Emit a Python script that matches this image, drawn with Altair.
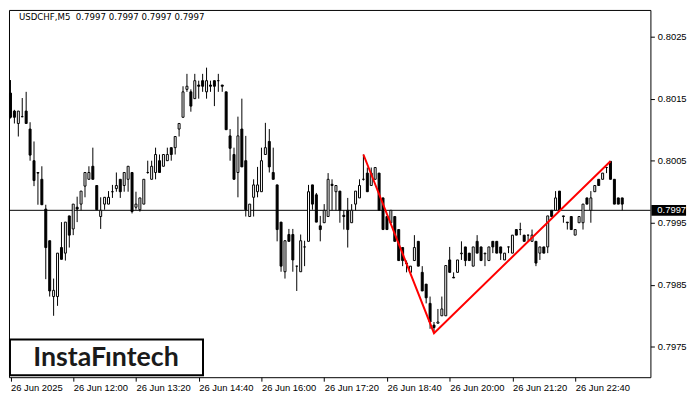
import json
import altair as alt
import pandas as pd

# ---- data (USDCHF, M5, 26 Jun 2025 from 10:40) ----
OPEN = [0.80159, 0.80130, 0.80110, 0.80121, 0.80130, 0.80101, 0.80050, 0.80031, 0.80020, 0.79972,
        0.79921, 0.79831, 0.79831, 0.79910, 0.79901, 0.79961, 0.79940, 0.79975, 0.79980, 0.80009,
        0.80020, 0.80041, 0.80010, 0.79960, 0.79980, 0.79980, 0.80000, 0.80005, 0.80020, 0.80010,
        0.80020, 0.80031, 0.79975, 0.79971, 0.79980, 0.80031, 0.80020, 0.80031, 0.80050, 0.80041,
        0.80050, 0.80071, 0.80071, 0.80101, 0.80120, 0.80165, 0.80161, 0.80150, 0.80172, 0.80179,
        0.80161, 0.80172, 0.80179, 0.80179, 0.80172, 0.80161, 0.80090, 0.80060, 0.80031, 0.80101,
        0.80050, 0.79960, 0.79991, 0.80000, 0.80000, 0.80060, 0.80081, 0.80031, 0.80011, 0.79951,
        0.79871, 0.79931, 0.79931, 0.79880, 0.79871, 0.79911, 0.79920, 0.80011, 0.79995, 0.79945,
        0.79950, 0.79960, 0.80012, 0.80000, 0.80001, 0.79962, 0.79970, 0.79950, 0.79980, 0.79990,
        0.80020, 0.80030, 0.80010, 0.80020, 0.80030, 0.79990, 0.79960, 0.79950, 0.79960, 0.79939,
        0.79910, 0.79885, 0.79870, 0.79889, 0.79920, 0.79870, 0.79851, 0.79820, 0.79785, 0.79788,
        0.79800, 0.79800, 0.79890, 0.79862, 0.79870, 0.79900, 0.79911, 0.79901, 0.79880, 0.79920,
        0.79911, 0.79900, 0.79889, 0.79920, 0.79920, 0.79911, 0.79890, 0.79911, 0.79901, 0.79939,
        0.79939, 0.79930, 0.79930, 0.79920, 0.79920, 0.79901, 0.79911, 0.79911, 0.79970, 0.79970,
        0.80001, 0.79961, 0.79951, 0.79960, 0.79930, 0.79950, 0.79950, 0.79990, 0.79970, 0.80000,
        0.80020, 0.80020, 0.80039, 0.80049, 0.80020, 0.79990, 0.79990]
HIGH = [0.80180, 0.80132, 0.80130, 0.80151, 0.80161, 0.80112, 0.80081, 0.80031, 0.80041, 0.79979,
        0.79921, 0.79860, 0.79901, 0.79951, 0.79951, 0.79961, 0.79980, 0.79992, 0.80001, 0.80031,
        0.80041, 0.80071, 0.80010, 0.79991, 0.79991, 0.80001, 0.80011, 0.80031, 0.80020, 0.80031,
        0.80041, 0.80031, 0.80000, 0.79990, 0.80020, 0.80050, 0.80050, 0.80071, 0.80060, 0.80060,
        0.80071, 0.80071, 0.80089, 0.80110, 0.80170, 0.80190, 0.80165, 0.80190, 0.80179, 0.80190,
        0.80200, 0.80179, 0.80179, 0.80190, 0.80172, 0.80161, 0.80101, 0.80071, 0.80121, 0.80150,
        0.80090, 0.79980, 0.80020, 0.80040, 0.80071, 0.80111, 0.80101, 0.80071, 0.80011, 0.79951,
        0.79921, 0.79940, 0.79940, 0.79880, 0.79931, 0.79921, 0.80011, 0.80011, 0.79998, 0.79961,
        0.79980, 0.80030, 0.80020, 0.80010, 0.80001, 0.79970, 0.79990, 0.79980, 0.80001, 0.80020,
        0.80060, 0.80039, 0.80039, 0.80039, 0.80030, 0.79990, 0.79960, 0.79970, 0.79960, 0.79939,
        0.79910, 0.79889, 0.79880, 0.79930, 0.79920, 0.79880, 0.79851, 0.79831, 0.79790, 0.79811,
        0.79831, 0.79881, 0.79911, 0.79870, 0.79890, 0.79920, 0.79911, 0.79901, 0.79911, 0.79930,
        0.79911, 0.79901, 0.79911, 0.79920, 0.79920, 0.79911, 0.79901, 0.79911, 0.79930, 0.79939,
        0.79950, 0.79930, 0.79930, 0.79939, 0.79920, 0.79911, 0.79911, 0.79961, 0.79970, 0.80001,
        0.80001, 0.79961, 0.79951, 0.79960, 0.79939, 0.79960, 0.79980, 0.79990, 0.80001, 0.80010,
        0.80020, 0.80030, 0.80039, 0.80049, 0.80020, 0.79990, 0.79990]
LOW = [0.80118, 0.80110, 0.80089, 0.80120, 0.80110, 0.80050, 0.80009, 0.79979, 0.79979, 0.79859,
       0.79831, 0.79800, 0.79816, 0.79891, 0.79889, 0.79910, 0.79930, 0.79951, 0.79970, 0.79991,
       0.80020, 0.80020, 0.79971, 0.79940, 0.79971, 0.79980, 0.79990, 0.80000, 0.79990, 0.80000,
       0.80000, 0.79965, 0.79971, 0.79968, 0.79980, 0.80029, 0.80020, 0.80020, 0.80031, 0.80041,
       0.80050, 0.80050, 0.80060, 0.80089, 0.80120, 0.80161, 0.80129, 0.80150, 0.80150, 0.80161,
       0.80150, 0.80161, 0.80138, 0.80161, 0.80161, 0.80100, 0.80050, 0.80020, 0.79991, 0.80040,
       0.79960, 0.79960, 0.79960, 0.79991, 0.80000, 0.80060, 0.80031, 0.80020, 0.79920, 0.79871,
       0.79860, 0.79920, 0.79871, 0.79840, 0.79871, 0.79880, 0.79920, 0.79971, 0.79951, 0.79920,
       0.79950, 0.79960, 0.79970, 0.79970, 0.79950, 0.79939, 0.79910, 0.79950, 0.79970, 0.79990,
       0.80018, 0.80000, 0.80010, 0.80020, 0.79970, 0.79939, 0.79939, 0.79950, 0.79920, 0.79889,
       0.79880, 0.79870, 0.79870, 0.79889, 0.79880, 0.79840, 0.79820, 0.79779, 0.79772, 0.79788,
       0.79800, 0.79800, 0.79870, 0.79861, 0.79870, 0.79890, 0.79880, 0.79889, 0.79880, 0.79901,
       0.79889, 0.79880, 0.79889, 0.79901, 0.79901, 0.79890, 0.79890, 0.79901, 0.79901, 0.79930,
       0.79930, 0.79920, 0.79920, 0.79920, 0.79880, 0.79890, 0.79901, 0.79901, 0.79960, 0.79970,
       0.79970, 0.79950, 0.79939, 0.79939, 0.79930, 0.79950, 0.79939, 0.79980, 0.79950, 0.80000,
       0.80010, 0.80020, 0.80030, 0.80020, 0.79980, 0.79980, 0.79970]
CLOSE = [0.80120, 0.80120, 0.80130, 0.80121, 0.80110, 0.80059, 0.80018, 0.80030, 0.79979, 0.79910,
         0.79840, 0.79841, 0.79901, 0.79891, 0.79951, 0.79930, 0.79980, 0.79972, 0.80001, 0.80031,
         0.80031, 0.80020, 0.79971, 0.79970, 0.79991, 0.79991, 0.80000, 0.80010, 0.80000, 0.80031,
         0.80041, 0.79968, 0.79980, 0.79990, 0.80020, 0.80031, 0.80041, 0.80060, 0.80031, 0.80060,
         0.80060, 0.80060, 0.80089, 0.80110, 0.80161, 0.80170, 0.80138, 0.80179, 0.80170, 0.80170,
         0.80179, 0.80170, 0.80170, 0.80179, 0.80170, 0.80100, 0.80070, 0.80020, 0.80090, 0.80040,
         0.79971, 0.79980, 0.80011, 0.80011, 0.80050, 0.80071, 0.80040, 0.80020, 0.79939, 0.79880,
         0.79921, 0.79920, 0.79890, 0.79880, 0.79921, 0.79911, 0.80000, 0.79980, 0.79951, 0.79939,
         0.79970, 0.80020, 0.80010, 0.80010, 0.79970, 0.79960, 0.79939, 0.79970, 0.80001, 0.80010,
         0.80020, 0.80000, 0.80030, 0.80039, 0.79970, 0.79939, 0.79939, 0.79970, 0.79920, 0.79889,
         0.79889, 0.79884, 0.79880, 0.79910, 0.79880, 0.79840, 0.79829, 0.79790, 0.79781, 0.79790,
         0.79811, 0.79881, 0.79870, 0.79861, 0.79890, 0.79901, 0.79889, 0.79889, 0.79911, 0.79901,
         0.79889, 0.79901, 0.79911, 0.79911, 0.79901, 0.79901, 0.79901, 0.79911, 0.79930, 0.79930,
         0.79939, 0.79920, 0.79930, 0.79930, 0.79885, 0.79911, 0.79901, 0.79961, 0.79960, 0.79990,
         0.79970, 0.79960, 0.79950, 0.79939, 0.79939, 0.79960, 0.79980, 0.79980, 0.79990, 0.80010,
         0.80010, 0.80030, 0.80039, 0.80020, 0.79980, 0.79980, 0.79980]

TICK_LABELS = ["26 Jun 2025", "26 Jun 12:00", "26 Jun 13:20", "26 Jun 14:40", "26 Jun 16:00",
               "26 Jun 17:20", "26 Jun 18:40", "26 Jun 20:00", "26 Jun 21:20", "26 Jun 22:40"]
BARS_PER_TICK = 16
PRICE_TICKS = [0.7975, 0.7985, 0.7995, 0.8005, 0.8015, 0.8025]
PATTERN_BAR = [90, 108, 153]
PATTERN_PRICE = [0.80060, 0.79772, 0.80049]
CURRENT_PRICE = 0.7997
TITLE = "USDCHF,M5\u00a0 0.7997 0.7997 0.7997 0.7997"
LOGO = "InstaFıntech"

FONT = "Liberation Sans"
W, H = 648, 371

df = pd.DataFrame({"bar": list(range(len(OPEN))), "open": OPEN, "high": HIGH,
                   "low": LOW, "close": CLOSE})

xs = alt.Scale(domain=[-0.38, 163.19], nice=False, zero=False, padding=0)
ys = alt.Scale(domain=[0.79701, 0.80293], nice=False, zero=False, padding=0)

label_expr = json.dumps(TICK_LABELS) + "[round(datum.value / %d)]" % BARS_PER_TICK
xaxis = alt.Axis(values=[k * BARS_PER_TICK for k in range(len(TICK_LABELS))],
                 labelExpr=label_expr, grid=False, domain=False, tickSize=4,
                 tickColor="black", labelAlign="left", labelBaseline="top",
                 labelPadding=1, labelFont=FONT, labelFontSize=9.5,
                 labelColor="black", labelOverlap=False, labelFlush=False)
yaxis = alt.Axis(orient="right", values=PRICE_TICKS, format=".4f", grid=False,
                 domain=False, tickSize=4, tickColor="black", labelPadding=3,
                 labelFont=FONT, labelFontSize=9.5, labelColor="black",
                 labelOverlap=False, labelFlush=False)


def X(field):
    return alt.X(field, type="quantitative", scale=xs, axis=xaxis, title=None)


def Y(field):
    return alt.Y(field, type="quantitative", scale=ys, axis=yaxis, title=None)


def YD(value):
    return alt.YDatum(value, type="quantitative", scale=ys, axis=yaxis, title=None)


base = alt.Chart(df)

wicks = base.mark_rule(color="black", strokeWidth=1).encode(
    x=X("bar"), y=Y("low"), y2="high")

bodies = base.mark_bar(size=2, stroke="black", strokeWidth=1).encode(
    x=X("bar"), y=Y("open"), y2="close",
    fill=alt.condition("datum.close >= datum.open", alt.value("white"), alt.value("black")))

current_line = alt.Chart(pd.DataFrame({"p": [CURRENT_PRICE]})).mark_rule(
    color="black", strokeWidth=1).encode(y=Y("p"))

pattern = alt.Chart(pd.DataFrame({"bar": PATTERN_BAR, "price": PATTERN_PRICE})).mark_line(
    color="#ff0000", strokeWidth=2).encode(x=X("bar"), y=Y("price"))

one = pd.DataFrame({"t": [TITLE]})
price_box = alt.Chart(one).mark_rule(color="black", strokeWidth=11).encode(
    x=alt.value(W + 1), x2=alt.value(W + 36), y=YD(CURRENT_PRICE))
price_text = alt.Chart(pd.DataFrame({"t": ["%.4f" % CURRENT_PRICE]})).mark_text(
    align="left", baseline="middle", color="white", font=FONT, fontSize=9.5).encode(
    x=alt.value(W + 7), y=YD(CURRENT_PRICE), text="t:N")

title = alt.Chart(one).mark_text(align="left", baseline="middle", color="black",
                                 font="DejaVu Sans", fontSize=8.7).encode(
    x=alt.value(10), y=alt.value(7), text="t:N")

logo_box = alt.Chart(pd.DataFrame({"t": [LOGO]})).mark_rect(
    fill="white", stroke="black", strokeWidth=2).encode(
    x=alt.value(1), x2=alt.value(196), y=alt.value(333), y2=alt.value(369))
logo_text = alt.Chart(pd.DataFrame({"t": [LOGO]})).mark_text(
    align="center", baseline="alphabetic", color="#1a1a1a", font="Lato",
    fontSize=27, fontWeight="bold").encode(
    x=alt.value(98), y=alt.value(360), text="t:N")

chart = alt.layer(current_line, wicks, bodies, pattern, price_box, price_text,
                  title, logo_box, logo_text).properties(
    width=W, height=H, background="white", padding=0,
).configure_view(stroke="black", strokeWidth=1)

chart.save("out.html", embed_options={"renderer": "svg", "actions": False})
